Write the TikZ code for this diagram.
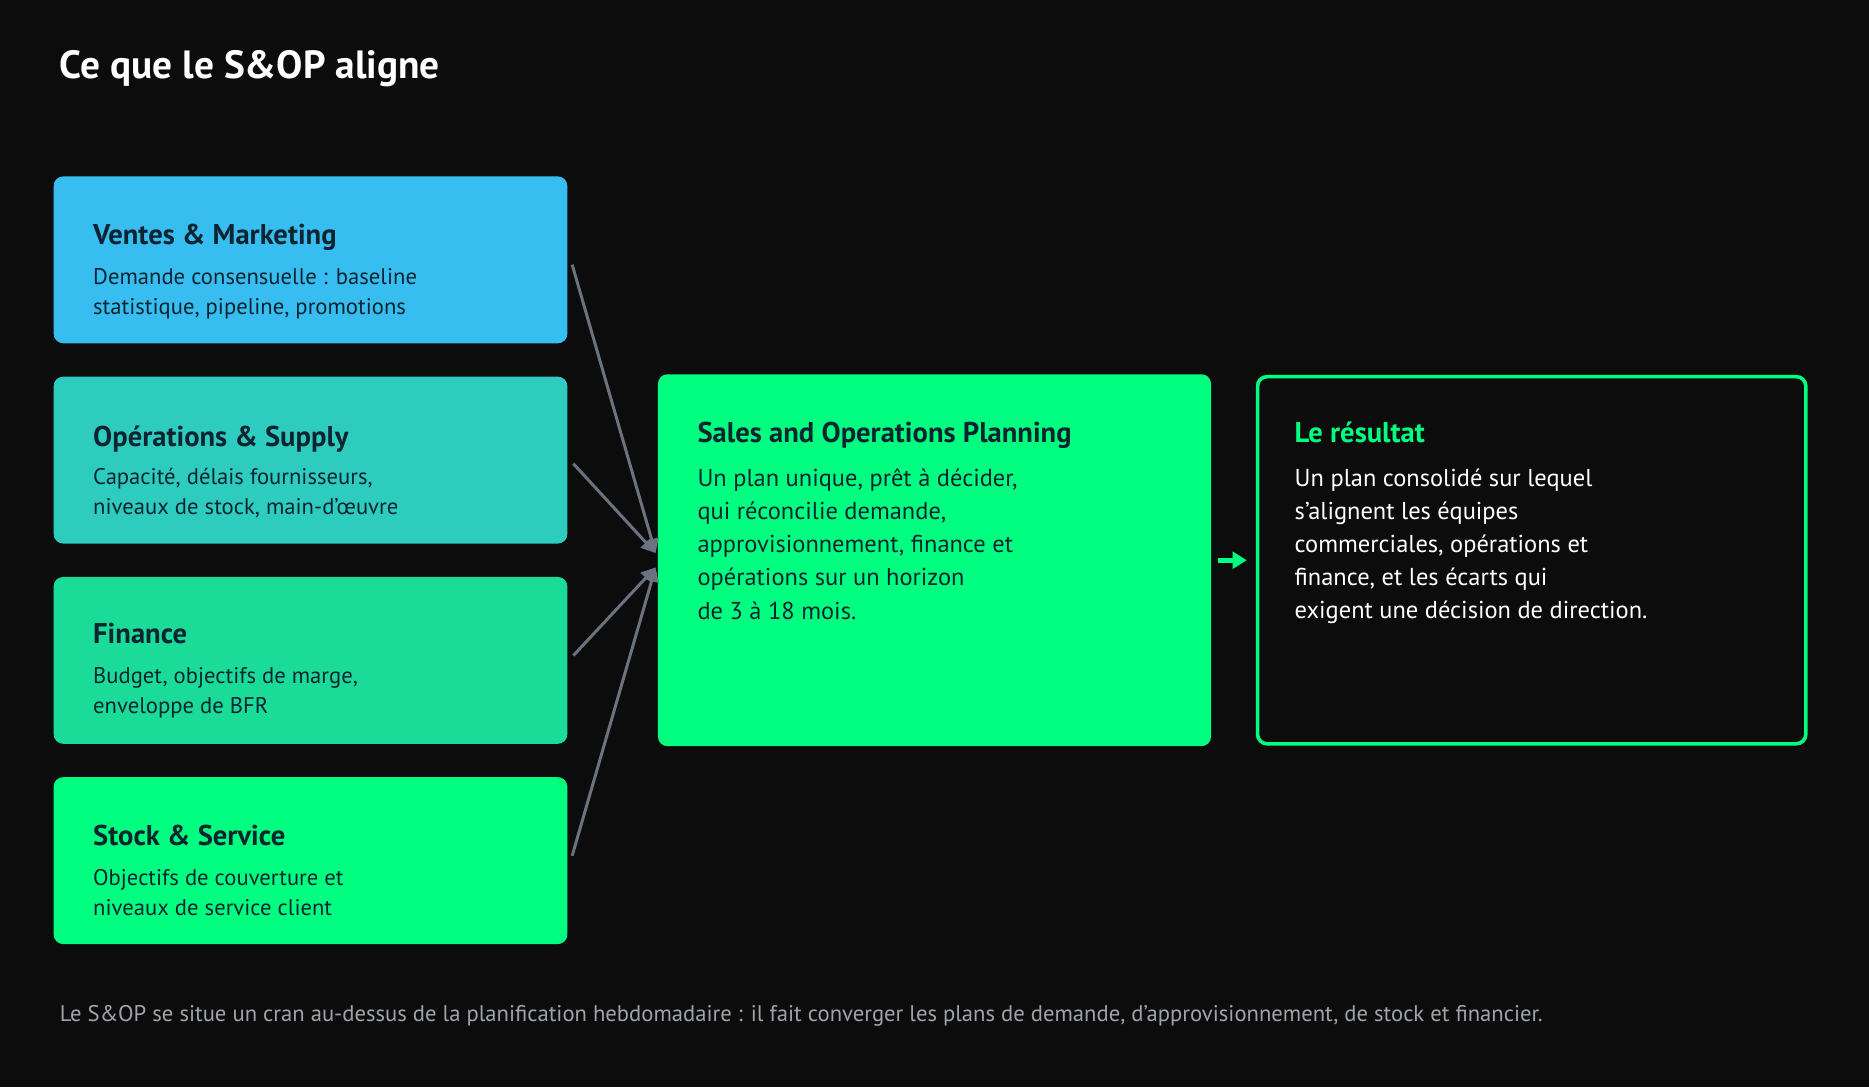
\documentclass[tikz,border=0pt]{standalone}
\usepackage{fontspec}
\setmainfont{PT Sans}
\usetikzlibrary{arrows.meta}
\definecolor{bg}{HTML}{0C0C0C}
\definecolor{c1}{HTML}{38BDF0}
\definecolor{c2}{HTML}{2DCCBF}
\definecolor{c3}{HTML}{1ADB98}
\definecolor{c4}{HTML}{00FF80}
\definecolor{dk}{HTML}{0B2430}
\definecolor{ar}{HTML}{6B7280}
\definecolor{ft}{HTML}{A0A4AA}
\begin{document}
\begin{tikzpicture}[x=1pt,y=-1pt,
 box/.style={rounded corners=8pt,inner sep=0pt},
 ttl/.style={anchor=north west,text=dk,font=\fontsize{24}{28}\selectfont\bfseries,inner sep=0pt},
 bdy/.style={anchor=north west,text=dk,font=\fontsize{19}{25}\selectfont,align=left,inner sep=0pt},
 con/.style={draw=ar,line width=2.5pt,-{Triangle[length=12pt,width=12pt]}}]
\fill[bg] (0,0) rectangle (1568,912);
\useasboundingbox (0,0) rectangle (1568,912);
\node[anchor=north west,text=white,font=\fontsize{33}{38}\selectfont\bfseries,inner sep=0pt] (title) at (50,42) {Ce que le S\&OP aligne};
\fill[c1,box] (45,148) rectangle (476,288);
\fill[c2,box] (45,316) rectangle (476,456);
\fill[c3,box] (45,484) rectangle (476,624);
\fill[c4,box] (45,652) rectangle (476,792);
\node[ttl] (t1) at (78,188) {Ventes \& Marketing};
\node[bdy] (b1) at (78,225) {Demande consensuelle : baseline\\statistique, pipeline, promotions};
\node[ttl] (t2) at (78,357) {Opérations \& Supply};
\node[bdy] (b2) at (78,393) {Capacité, délais fournisseurs,\\niveaux de stock, main-d'œuvre};
\node[ttl] (t3) at (78,523) {Finance};
\node[bdy] (b3) at (78,560) {Budget, objectifs de marge,\\enveloppe de BFR};
\node[ttl] (t4) at (78,692) {Stock \& Service};
\node[bdy] (b4) at (78,729) {Objectifs de couverture et\\niveaux de service client};
\fill[c4,box] (552,314) rectangle (1016,626);
\node[ttl] (tc) at (585,354) {Sales and Operations Planning};
\node[bdy,font=\fontsize{20.5}{27.8}\selectfont] (bc) at (585,393) {Un plan unique, prêt à décider,\\qui réconcilie demande,\\approvisionnement, finance et\\opérations sur un horizon\\de 3 à 18 mois.};
\draw[c4,line width=3pt,rounded corners=8pt] (1055,316) rectangle (1515,624);
\node[ttl,text=c4] (tr) at (1086,354) {Le résultat};
\node[bdy,text=white,font=\fontsize{20.5}{27.8}\selectfont] (br) at (1086,393) {Un plan consolidé sur lequel\\s'alignent les équipes\\commerciales, opérations et\\finance, et les écarts qui\\exigent une décision de direction.};
\coordinate (s1) at (480,222); \coordinate (s2) at (481,389);
\coordinate (s3) at (481,550); \coordinate (s4) at (480,718);
\coordinate (e1) at (550,464); \coordinate (e2) at (550,476);
\draw[con] (s1) -- (e1);
\draw[con] (s2) -- (e1);
\draw[con] (s3) -- (e2);
\draw[con] (s4) -- (e2);
\coordinate (g1) at (1022,470); \coordinate (g2) at (1046,470);
\draw[c4,line width=4pt,-{Triangle[length=12pt,width=14pt]}] (g1) -- (g2);
\node[anchor=north west,text=ft,font=\fontsize{19}{23}\selectfont,inner sep=0pt] (foot) at (50,843) {Le S\&OP se situe un cran au-dessus de la planification hebdomadaire : il fait converger les plans de demande, d'approvisionnement, de stock et financier.};
\end{tikzpicture}
\end{document}
